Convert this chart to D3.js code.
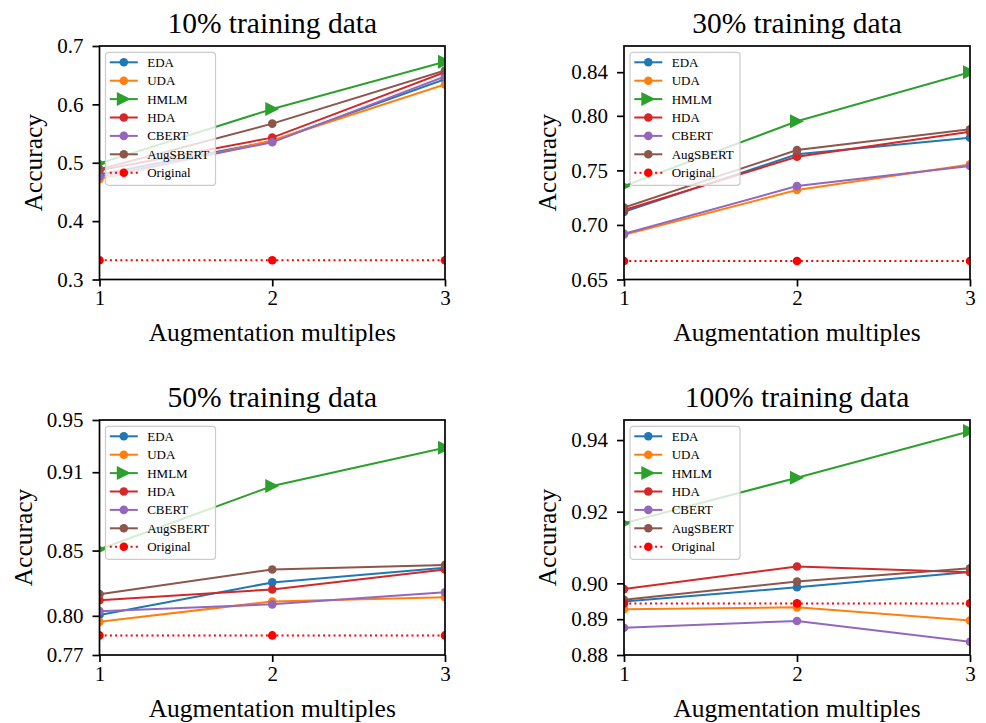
<!DOCTYPE html>
<html>
<head>
<meta charset="utf-8">
<script src="https://cdn.jsdelivr.net/npm/d3@7"></script>
<style>
  body { margin: 0; background: #fff; }
  svg text { font-family: "Liberation Serif", "Times New Roman", serif !important; }
</style>
</head>
<body>
<div id="chart"></div>
<script>
// x values and panel labels
const multiples = [1, 2, 3];
const panelTitles = ["10% training data", "30% training data", "50% training data", "100% training data"];
const methods = ["EDA", "UDA", "HMLM", "HDA", "CBERT", "AugSBERT", "Original"];
const colors = ["#1f77b4", "#ff7f0e", "#2ca02c", "#d62728", "#9467bd", "#8c564b", "#ff0000"];

// accuracy per method, one row per panel (10%, 30%, 50%, 100%)
const EDA      = [[0.480, 0.537, 0.643], [0.712, 0.7647, 0.780], [0.8006, 0.8256, 0.8368], [0.8949, 0.8989, 0.9032]];
const UDA      = [[0.472, 0.538, 0.634], [0.691, 0.732, 0.7555], [0.7955, 0.811, 0.8143], [0.8928, 0.8933, 0.8896]];
const HMLM     = [[0.499, 0.592, 0.673], [0.7356, 0.795, 0.840], [0.851, 0.8994, 0.9288], [0.9168, 0.9295, 0.9425]];
const HDA      = [[0.487, 0.543, 0.655], [0.7136, 0.7625, 0.7855], [0.812, 0.8202, 0.8355], [0.8984, 0.9047, 0.9031]];
const CBERT    = [[0.476, 0.535, 0.648], [0.692, 0.7356, 0.754], [0.8036, 0.8088, 0.818], [0.8876, 0.8895, 0.8837]];
const AugSBERT = [[0.489, 0.567, 0.658], [0.716, 0.7686, 0.7876], [0.8166, 0.8355, 0.839], [0.8954, 0.9005, 0.9042]];
const Original = [[0.333, 0.333, 0.333], [0.667, 0.667, 0.667], [0.785, 0.785, 0.785], [0.8944, 0.8944, 0.8944]];

// y axis limits and ticks per panel
const yLimits = [[0.3, 0.7], [0.65, 0.864], [0.77, 0.95], [0.88, 0.9456]];
const yTicks = [[0.3, 0.4, 0.5, 0.6, 0.7], [0.65, 0.70, 0.75, 0.80, 0.84], [0.77, 0.80, 0.85, 0.91, 0.95], [0.88, 0.89, 0.90, 0.92, 0.94]];
const yTickLabels = [["0.3", "0.4", "0.5", "0.6", "0.7"], ["0.65", "0.70", "0.75", "0.80", "0.84"], ["0.77", "0.80", "0.85", "0.91", "0.95"], ["0.88", "0.89", "0.90", "0.92", "0.94"]];

const series = [EDA, UDA, HMLM, HDA, CBERT, AugSBERT, Original];

const W = 986, H = 723;
const panels = [
    { x: 99.5, y: 46, w: 345.5, h: 233.5 },
    { x: 624, y: 46, w: 346, h: 233.5 },
    { x: 99.5, y: 420, w: 345.5, h: 235 },
    { x: 624, y: 420, w: 346, h: 235 }
];

const svg = d3.select("#chart").append("svg")
    .attr("width", W)
    .attr("height", H);

const tri = d3.symbol().type({
    draw(ctx, size) {
        const s = Math.sqrt(size) / 2;
        ctx.moveTo(s, 0);
        ctx.lineTo(-s, s);
        ctx.lineTo(-s, -s);
        ctx.closePath();
    }
}).size(14 * 14);

function drawMarker(g, name, color, cx, cy) {
    if (name === "HMLM") {
        g.append("path")
            .attr("d", tri)
            .attr("transform", `translate(${cx},${cy})`)
            .attr("fill", color);
    } else {
        g.append("circle")
            .attr("cx", cx).attr("cy", cy).attr("r", 4.3)
            .attr("fill", color);
    }
}

panels.forEach((p, pi) => {
    const g = svg.append("g").attr("transform", `translate(${p.x},${p.y})`);

    const x = d3.scaleLinear().domain([1, 3]).range([0, p.w]);
    const y = d3.scaleLinear().domain(yLimits[pi]).range([p.h, 0]);

    g.append("clipPath").attr("id", "clip" + pi)
        .append("rect").attr("width", p.w).attr("height", p.h);

    const plot = g.append("g").attr("clip-path", `url(#clip${pi})`);
    const line = d3.line().x((d, i) => x(multiples[i])).y(d => y(d));

    series.forEach((s, si) => {
        const vals = s[pi];
        const path = plot.append("path")
            .datum(vals)
            .attr("d", line)
            .attr("fill", "none")
            .attr("stroke", colors[si])
            .attr("stroke-width", 2);
        if (methods[si] === "Original") {
            path.attr("stroke-dasharray", "2,3.2");
        }
        vals.forEach((v, i) => drawMarker(plot, methods[si], colors[si], x(multiples[i]), y(v)));
    });

    // legend
    const lg = g.append("g").attr("transform", "translate(6,6.3)");
    lg.append("rect")
        .attr("width", 110).attr("height", 133)
        .attr("rx", 3)
        .attr("fill", "#fff").attr("fill-opacity", 0.8)
        .attr("stroke", "#cccccc").attr("stroke-width", 1.2);
    methods.forEach((m, mi) => {
        const ry = 10 + mi * 18.4;
        const hl = lg.append("line")
            .attr("x1", 4.3).attr("x2", 32.3)
            .attr("y1", ry).attr("y2", ry)
            .attr("stroke", colors[mi]).attr("stroke-width", 2);
        if (m === "Original") hl.attr("stroke-dasharray", "2,3.2");
        drawMarker(lg, m, colors[mi], 18.3, ry);
        lg.append("text")
            .attr("x", 41.7).attr("y", ry + 4.5)
            .attr("font-size", 13)
            .attr("fill", "#000")
            .text(m);
    });

    // axes
    const xAxis = d3.axisBottom(x).tickValues(multiples).tickFormat(d3.format("d")).tickSize(7).tickPadding(4);
    const gx = g.append("g").attr("transform", `translate(0,${p.h})`).call(xAxis);
    gx.select(".domain").remove();
    gx.selectAll(".tick line").attr("stroke", "#000").attr("stroke-width", 1.7);
    gx.selectAll(".tick text").attr("font-size", 21).attr("fill", "#000");

    const yAxis = d3.axisLeft(y).tickValues(yTicks[pi]).tickFormat((d, i) => yTickLabels[pi][i]).tickSize(7).tickPadding(9);
    const gy = g.append("g").call(yAxis);
    gy.select(".domain").remove();
    gy.selectAll(".tick line").attr("stroke", "#000").attr("stroke-width", 1.7);
    gy.selectAll(".tick text").attr("font-size", 21).attr("fill", "#000");

    g.append("rect")
        .attr("width", p.w).attr("height", p.h)
        .attr("fill", "none").attr("stroke", "#000").attr("stroke-width", 1.7);

    // labels
    g.append("text")
        .attr("x", p.w / 2).attr("y", -12.7)
        .attr("text-anchor", "middle")
        .attr("font-size", 29.5)
        .text(panelTitles[pi]);

    g.append("text")
        .attr("x", p.w / 2).attr("y", p.h + 61.5)
        .attr("text-anchor", "middle")
        .attr("font-size", 25.5)
        .text("Augmentation multiples");

    let minX = 0;
    gy.selectAll(".tick text").each(function () {
        minX = Math.min(minX, this.getBBox().x);
    });
    g.append("text")
        .attr("transform", `translate(${minX - 15},${p.h / 2}) rotate(-90)`)
        .attr("text-anchor", "middle")
        .attr("font-size", 25.5)
        .text("Accuracy");
});
</script>
</body>
</html>
